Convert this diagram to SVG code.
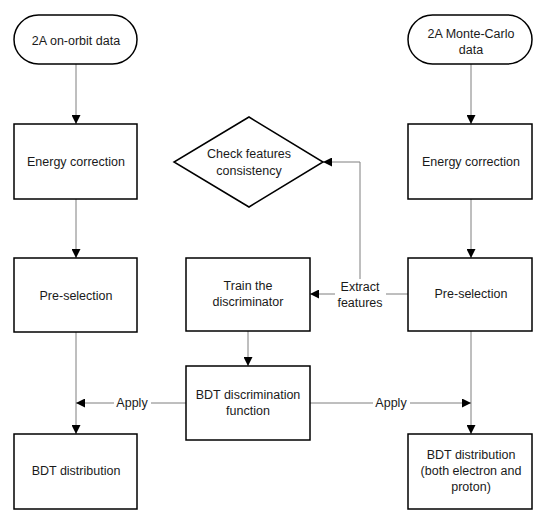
<svg xmlns="http://www.w3.org/2000/svg" width="548" height="530" viewBox="0 0 548 530">
<defs>
<marker id="ah" viewBox="0 0 10 10" refX="10" refY="5" markerWidth="9" markerHeight="9" markerUnits="userSpaceOnUse" orient="auto">
<path d="M0,0 L10,5 L0,10 Z" fill="#000"/>
</marker>
<style>
.n{fill:#fff;stroke:#000;stroke-width:1.5}
.c{fill:none;stroke:#7f7f7f;stroke-width:1}
.a{marker-end:url(#ah)}
text{font-family:"Liberation Sans",Arial,sans-serif;font-size:12.5px;fill:#1a1a1a;text-anchor:middle;dominant-baseline:central}
.lb{fill:#fff;stroke:none}
</style>
</defs>
<rect width="548" height="530" fill="#fff"/>
<g id="connectors">
<line class="c a" x1="76" y1="64" x2="76" y2="124"/>
<line class="c a" x1="76" y1="199" x2="76" y2="258"/>
<line class="c a" x1="76" y1="332" x2="76" y2="434"/>
<line class="c a" x1="471" y1="64" x2="471" y2="124"/>
<line class="c a" x1="471" y1="199" x2="471" y2="258"/>
<line class="c a" x1="471" y1="331" x2="471" y2="434"/>
<line class="c a" x1="248" y1="331" x2="248" y2="366"/>
<line class="c a" x1="408" y1="294" x2="310" y2="294"/>
<polyline class="c a" points="360,294 360,162 323,162"/>
<line class="c a" x1="186" y1="403" x2="76" y2="403"/>
<line class="c a" x1="310" y1="403" x2="471" y2="403"/>
<rect class="lb" x="335" y="279" width="51" height="31"/>
<text x="360" y="287">Extract</text>
<text x="360" y="303">features</text>
<rect class="lb" x="114" y="396" width="37" height="14"/>
<text x="132" y="403">Apply</text>
<rect class="lb" x="373" y="396" width="37" height="14"/>
<text x="391" y="403">Apply</text>
</g>
<g id="onorbit">
<rect class="n" x="14" y="15" width="123" height="49" rx="24.5"/>
<text x="76" y="41">2A on-orbit data</text>
</g>
<g id="montecarlo">
<rect class="n" x="408" y="15" width="124" height="49" rx="24.5"/>
<text x="471" y="34">2A Monte-Carlo</text>
<text x="471" y="50">data</text>
</g>
<g id="energy-left">
<rect class="n" x="14" y="124" width="123" height="75"/>
<text x="76" y="162">Energy correction</text>
</g>
<g id="energy-right">
<rect class="n" x="408" y="124" width="124" height="75"/>
<text x="471" y="162">Energy correction</text>
</g>
<g id="check">
<polygon class="n" points="249,117 323,162 249,207 174,162"/>
<text x="249" y="154">Check features</text>
<text x="249" y="171">consistency</text>
</g>
<g id="presel-left">
<rect class="n" x="14" y="258" width="123" height="74"/>
<text x="76" y="296">Pre-selection</text>
</g>
<g id="train">
<rect class="n" x="186" y="258" width="124" height="73"/>
<text x="248" y="286">Train the</text>
<text x="248" y="302">discriminator</text>
</g>
<g id="presel-right">
<rect class="n" x="408" y="258" width="124" height="73"/>
<text x="471" y="294">Pre-selection</text>
</g>
<g id="bdtfunc">
<rect class="n" x="186" y="366" width="124" height="74"/>
<text x="248" y="395">BDT discrimination</text>
<text x="248" y="411">function</text>
</g>
<g id="bdt-left">
<rect class="n" x="14" y="434" width="123" height="75"/>
<text x="76" y="471">BDT distribution</text>
</g>
<g id="bdt-right">
<rect class="n" x="408" y="434" width="124" height="75"/>
<text x="471" y="455">BDT distribution</text>
<text x="471" y="471">(both electron and</text>
<text x="471" y="487">proton)</text>
</g>
</svg>
